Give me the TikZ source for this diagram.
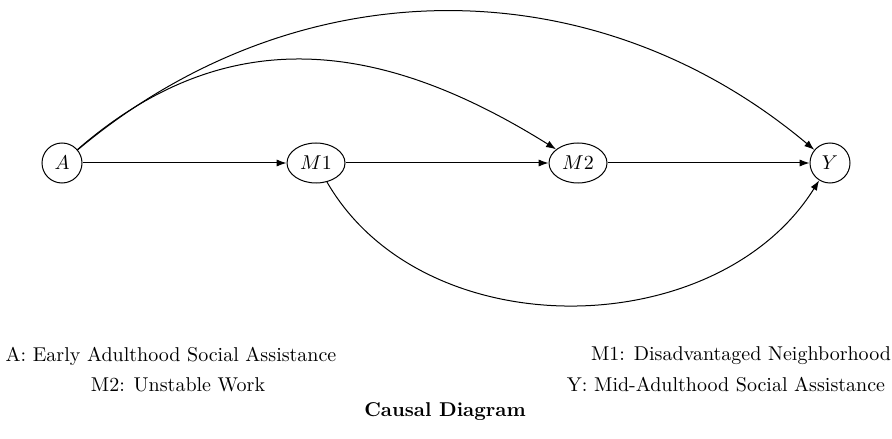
\documentclass[tikz,border=0pt]{standalone}
\usetikzlibrary{arrows.meta,shapes.geometric}
\begin{document}
\begin{tikzpicture}[x=0.5pt,y=-0.5pt,
  var/.style={draw,ellipse,inner sep=0pt,minimum height=20pt,line width=0.5pt},
  circ/.style={draw,circle,inner sep=0pt,minimum size=20pt,line width=0.5pt},
  arr/.style={-{Latex[length=5pt,width=3.6pt]},line width=0.5pt},
  legend/.style={inner sep=0pt,font=\normalsize}]
\useasboundingbox (0,0) rectangle (892,438);
\node[circ] (A) at (62,163) {$A$};
\node[var,minimum width=29pt] (M1) at (316,163) {$M1$};
\node[var,minimum width=29pt] (M2) at (578,163) {$M2$};
\node[circ] (Y) at (830,163) {$Y$};
\draw[arr] (A) -- (M1);
\draw[arr] (M1) -- (M2);
\draw[arr] (M2) -- (Y);
\draw[arr] (A) to[out=41,in=148,looseness=1.08] (M2);
\draw[arr] (A) to[out=40,in=140,looseness=1] (Y);
\draw[arr] (M1) to[out=-60,in=-122,looseness=1.0] (Y);
\node[legend] (la) at (171,356) {A: Early Adulthood Social Assistance};
\node[legend] (lm1) at (741,356) {M1: Disadvantaged Neighborhood};
\node[legend] (lm2) at (178,385) {M2: Unstable Work};
\node[legend] (ly) at (726,385) {Y: Mid-Adulthood Social Assistance};
\node[legend,font=\normalsize\bfseries] (title) at (445,412) {Causal Diagram};
\end{tikzpicture}
\end{document}
